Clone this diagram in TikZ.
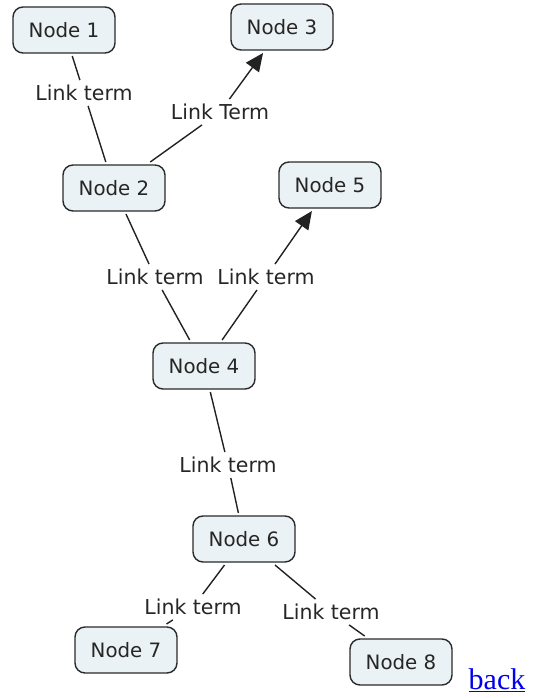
\documentclass[tikz,border=0pt]{standalone}
\usepackage{fontspec}
\setmainfont{DejaVu Sans}
\newfontfamily\backfont{Liberation Serif}
\usetikzlibrary{arrows.meta}
\definecolor{boxfill}{HTML}{EBF2F5}
\definecolor{boxline}{HTML}{2A2A2A}
\definecolor{linkcol}{HTML}{222222}
\definecolor{backblue}{HTML}{0000EE}
\tikzset{
  cnode/.style={draw=boxline, fill=boxfill, line width=1.4pt, rounded corners=10pt,
    minimum width=102pt, minimum height=46pt, inner sep=0pt, outer sep=3pt,
    font=\fontsize{19.8}{23}\selectfont, text=black!85},
  lterm/.style={inner sep=3pt, outer sep=2pt, font=\fontsize{20.5}{24}\selectfont, text=black!85},
  conn/.style={draw=linkcol, line width=1.4pt},
  arr/.style={conn, -{Triangle[length=18pt,width=16pt]}, fill=black}
}
\begin{document}
\begin{tikzpicture}[x=1pt,y=-1pt]
\path[use as bounding box] (0,0) rectangle (535,698);
\node[cnode] (n1) at (64,30) {Node 1};
\node[cnode] (n3) at (282,27) {Node 3};
\node[cnode] (n2) at (114,188) {Node 2};
\node[cnode] (n5) at (330,185) {Node 5};
\node[cnode] (n4) at (204,366) {Node 4};
\node[cnode] (n6) at (244,539) {Node 6};
\node[cnode] (n7) at (126,650) {Node 7};
\node[cnode] (n8) at (401,662) {Node 8};

\node[lterm] (l12) at (84,93) {Link term};
\node[lterm] (l23) at (220,112) {Link Term};
\node[lterm] (l24) at (155,277) {Link term};
\node[lterm] (l45) at (266,277) {Link term};
\node[lterm] (l46) at (228,465) {Link term};
\node[lterm] (l67) at (193,607) {Link term};
\node[lterm] (l68) at (331,612) {Link term};

\draw[conn] (n1) -- (l12);
\draw[conn] (l12) -- (n2);
\draw[conn] (n2) -- (l23);
\draw[arr] (l23) -- (n3);
\draw[conn] (n2) -- (l24);
\draw[conn] (l24) -- (n4);
\draw[conn] (n4) -- (l45);
\draw[arr] (l45) -- (n5);
\draw[conn] (n4) -- (l46);
\draw[conn] (l46) -- (n6);
\draw[conn] (n6) -- (l67);
\draw[conn] (l67) -- (n7);
\draw[conn] (n6) -- (l68);
\draw[conn] (l68) -- (n8);

\node[inner sep=0pt, text=backblue, font=\backfont\fontsize{30}{34}\selectfont] (back) at (497,680) {\underline{back}};
\end{tikzpicture}
\end{document}
